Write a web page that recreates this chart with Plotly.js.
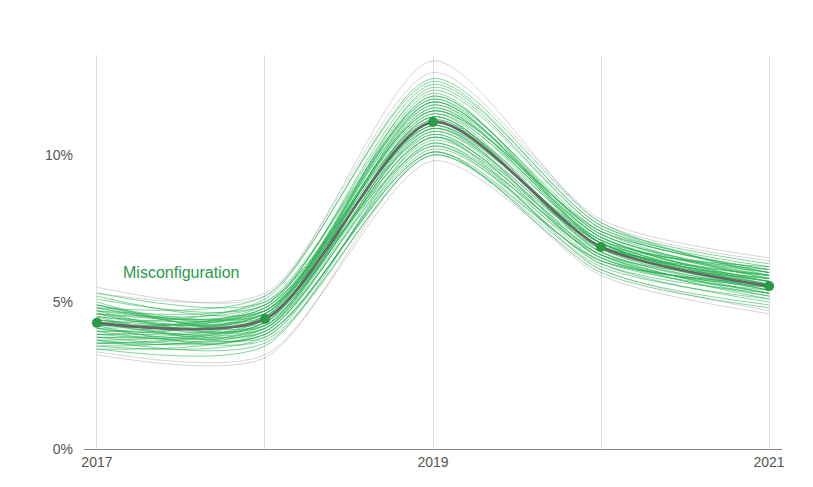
<!DOCTYPE html>
<html>
<head>
<meta charset="utf-8">
<script src="https://cdn.plot.ly/plotly-3.0.1.min.js"></script>
<style>html,body{margin:0;padding:0;background:#fff}#chart{width:813px;height:487px}</style>
</head>
<body>
<div id="chart"></div>
<script>
const years = [2017, 2018, 2019, 2020, 2021];
const tickLabels = ["2017", "", "2019", "", "2021"];
const yTickVals = [0, 5, 10];
const yTickLabels = ["0%", "5%", "10%"];
const seriesName = "Misconfiguration";
const mainValues = [4.29, 4.42, 11.12, 6.87, 5.54];

const sampleValues = [
  [4.8, 4.6, 11.8, 7.2, 5.9], [3.9, 4.1, 10.4, 6.6, 5.3], [4.5, 4.7, 11.5, 7.0, 5.7],
  [4.1, 4.0, 10.9, 6.8, 5.5], [3.6, 4.3, 11.2, 6.9, 5.8], [4.9, 4.5, 12.0, 7.3, 6.0],
  [4.2, 4.8, 10.7, 6.5, 5.2], [3.8, 3.9, 10.1, 6.4, 5.6], [4.6, 4.4, 11.6, 7.1, 6.1],
  [4.0, 4.6, 11.0, 7.0, 5.4], [5.1, 4.9, 12.2, 7.5, 6.2], [3.5, 3.8, 10.3, 6.3, 5.0],
  [4.4, 4.2, 11.3, 6.7, 5.5], [4.7, 5.0, 11.9, 7.4, 5.8], [3.7, 4.4, 10.6, 6.9, 5.9],
  [4.3, 4.1, 11.4, 7.2, 5.6], [4.9, 4.3, 10.8, 6.6, 5.3], [3.9, 4.7, 11.7, 7.0, 5.7],
  [4.2, 3.7, 10.0, 6.2, 5.1], [4.6, 4.8, 12.4, 7.6, 6.0], [3.4, 4.0, 10.5, 6.8, 5.7],
  [4.5, 4.5, 11.1, 6.9, 5.4], [4.1, 4.9, 11.8, 7.3, 5.9], [5.0, 4.2, 11.0, 6.5, 5.5],
  [3.8, 4.3, 10.9, 7.1, 6.0], [4.4, 4.6, 12.1, 7.0, 5.6], [4.0, 3.9, 10.2, 6.6, 5.8],
  [4.7, 4.7, 11.5, 7.4, 6.1], [3.6, 4.1, 11.3, 6.7, 5.2], [4.3, 5.1, 12.6, 7.7, 5.9],
  [4.8, 4.4, 10.6, 6.4, 5.4], [3.9, 4.5, 11.6, 7.2, 5.7], [4.5, 3.8, 10.4, 6.3, 5.3],
  [4.2, 4.6, 11.9, 7.0, 5.6], [3.5, 4.2, 10.8, 6.9, 5.9], [4.6, 4.9, 11.2, 7.1, 5.5],
  [4.1, 4.3, 12.3, 7.5, 6.0], [5.2, 4.7, 11.4, 6.8, 5.4], [3.7, 3.6, 10.0, 6.4, 5.6],
  [4.4, 4.4, 11.7, 7.3, 5.8], [4.0, 4.8, 10.9, 6.6, 5.1], [4.7, 4.1, 11.1, 7.0, 6.2],
  [3.8, 4.5, 12.0, 7.2, 5.7], [4.3, 4.0, 10.7, 6.5, 5.5], [4.9, 4.6, 11.3, 6.9, 5.8],
  [3.6, 4.4, 11.5, 7.4, 6.1], [4.2, 4.7, 10.3, 6.7, 5.3], [4.6, 4.2, 11.8, 7.1, 5.6],
  [5.3, 5.0, 11.0, 7.0, 5.9], [3.4, 3.5, 10.6, 6.1, 4.9], [4.8, 5.2, 12.5, 7.6, 6.3],
  [3.7, 3.9, 10.1, 6.0, 4.8]
];
const outlierValues = [
  [5.5, 5.2, 13.2, 7.7, 6.4],
  [3.3, 3.2, 9.8, 6.1, 4.7],
  [5.3, 5.3, 12.8, 7.8, 6.5],
  [3.2, 3.1, 10.1, 5.9, 4.6]
];

const smooth = 0.75;
const traces = [];
outlierValues.forEach(v => traces.push({
  x: years, y: v, type: "scatter", mode: "lines",
  line: {shape: "spline", smoothing: smooth, color: "rgba(120,120,120,0.45)", width: 0.7},
  hoverinfo: "skip", showlegend: false
}));
sampleValues.forEach(v => traces.push({
  x: years, y: v, type: "scatter", mode: "lines",
  line: {shape: "spline", smoothing: smooth, color: "rgba(30,175,75,0.6)", width: 0.9},
  hoverinfo: "skip", showlegend: false
}));
traces.push({
  x: years, y: mainValues, type: "scatter", mode: "lines+markers", name: seriesName,
  line: {shape: "spline", smoothing: smooth, color: "#666666", width: 2.6},
  marker: {color: "#2a9a48", size: 10},
  showlegend: false
});

const layout = {
  width: 813, height: 487,
  margin: {l: 84, r: 31, t: 55, b: 38},
  paper_bgcolor: "#fff", plot_bgcolor: "#fff",
  font: {family: "Liberation Sans, Arial, sans-serif", size: 14, color: "#555"},
  xaxis: {
    range: [2016.923, 2021.077], tickvals: years, ticktext: tickLabels,
    showgrid: true, gridcolor: "#dcdcdc", gridwidth: 1, zeroline: false,
    showline: true, linecolor: "#888", linewidth: 1, ticks: "", ticklen: 0
  },
  yaxis: {
    range: [0, 13.4], tickvals: yTickVals, ticktext: yTickLabels,
    showgrid: false, zeroline: false, showline: false, ticks: "", ticklabelstandoff: 10
  },
  annotations: [{
    x: 2017.506, y: 6.0, xref: "x", yref: "y", text: seriesName, showarrow: false,
    font: {size: 16, color: "#2a9a48", family: "Liberation Sans, Arial, sans-serif"}
  }]
};

Plotly.newPlot("chart", traces, layout, {displayModeBar: false, staticPlot: true});
</script>
</body>
</html>
